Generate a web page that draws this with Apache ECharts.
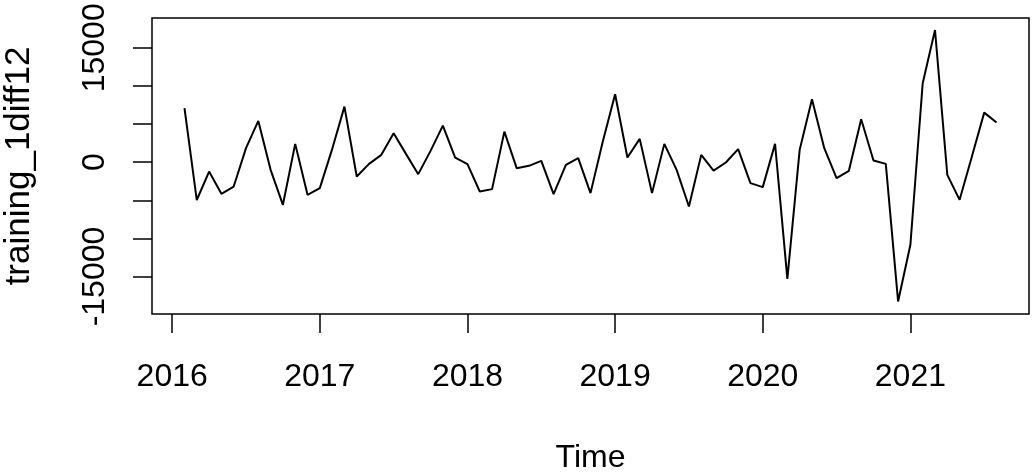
<!DOCTYPE html>
<html>
<head>
<meta charset="utf-8">
<script src="https://cdn.jsdelivr.net/npm/echarts@6/dist/echarts.min.js"></script>
<style>
html,body{margin:0;padding:0;background:#fff;}
#c{width:1035px;height:474px;}
</style>
</head>
<body>
<div id="c"></div>
<script>
// Monthly series: starts Feb 2016, ends Aug 2021
const startYear = 2016;
const startMonth = 2; // February
const values = [
  7074, -4965, -1231, -4153, -3196, 1834, 5411, -1009, -5594, 2398,
  -4284, -3410, 1703, 7284, -1887, -223, 956, 3799, 1087, -1572,
  1480, 4795, 603, -262, -3852, -3537, 4009, -786, -485, 170,
  -4192, -354, 524, -4061, 2699, 8909, 603, 3052, -4061, 2398,
  -1009, -5812, 956, -1100, -44, 1703, -2751, -3275, 2398, -15300,
  1611, 8254, 1834, -2096, -1140, 5633, 210, -223, -18263, -10835,
  10350, 17333, -1664, -4939, 734, 6498, 5188
];
const xTickYears = [2016, 2017, 2018, 2019, 2020, 2021];
const yTicks = [-15000, -10000, -5000, 0, 5000, 10000, 15000];
const yTickLabels = [-15000, 0, 15000];

const points = values.map((v, i) => [startYear + (startMonth - 1 + i) / 12, v]);

const FONT = 'Liberation Sans, Arial, sans-serif';
const chart = echarts.init(document.getElementById('c'), null, {renderer: 'canvas'});
chart.setOption({
  animation: false,
  backgroundColor: '#fff',
  grid: {
    left: 152, right: 6, top: 18, bottom: 160,
    containLabel: false,
    outerBoundsMode: 'none',
    show: true, borderColor: '#000', borderWidth: 1.5, backgroundColor: 'transparent'
  },
  xAxis: {
    type: 'value',
    min: 2015.8633, max: 2021.8033,
    name: 'Time',
    nameLocation: 'middle',
    nameGap: 128,
    nameTextStyle: {color: '#000', fontSize: 32, fontFamily: FONT},
    axisLine: {show: false, onZero: false},
    splitLine: {show: false},
    axisTick: {show: true, inside: false, length: 19, customValues: xTickYears,
      lineStyle: {color: '#000', width: 1.5}},
    axisLabel: {customValues: xTickYears, margin: 47, color: '#000', fontSize: 32, fontFamily: FONT,
      formatter: v => String(Math.round(v))}
  },
  yAxis: {
    type: 'value',
    min: -19913, max: 18905,
    name: 'training_1diff12',
    nameLocation: 'middle',
    nameGap: 115,
    nameTextStyle: {color: '#000', fontSize: 35, fontFamily: FONT},
    axisLine: {show: false, onZero: false},
    splitLine: {show: false},
    axisTick: {show: true, inside: false, length: 19, customValues: yTicks,
      lineStyle: {color: '#000', width: 1.5}},
    axisLabel: {customValues: yTickLabels, rotate: 90, margin: 41, color: '#000', fontSize: 32, fontFamily: FONT,
      formatter: v => String(Math.round(v))}
  },
  series: [{
    type: 'line',
    data: points,
    showSymbol: false,
    lineStyle: {color: '#000', width: 2},
    silent: true
  }]
});
</script>
</body>
</html>
